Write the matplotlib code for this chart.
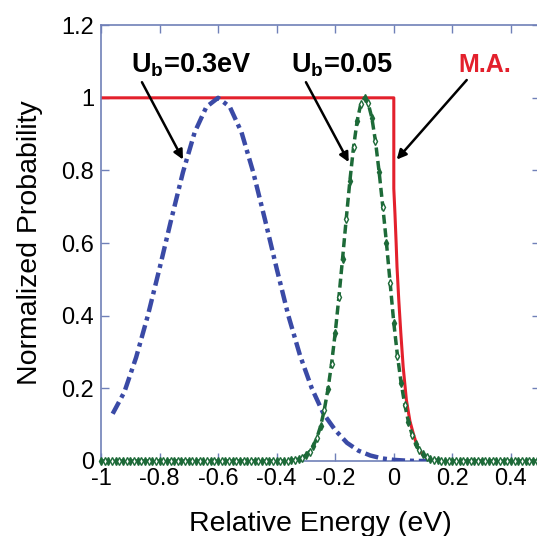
import numpy as np
import matplotlib.pyplot as plt

plt.rcParams['font.family'] = ['Liberation Sans', 'DejaVu Sans']
plt.rcParams['mathtext.fontset'] = 'custom'
plt.rcParams['mathtext.rm'] = 'Liberation Sans'
plt.rcParams['mathtext.bf'] = 'Liberation Sans:bold'

# M.A. curve (red): flat at 1, sharp drop at 0, short tail
ma_x = [-1.0, 0.0, 0.0, 0.004, 0.008, 0.011, 0.017, 0.024, 0.032, 0.043, 0.055,
        0.066, 0.08, 0.10, 0.13]
ma_y = [1.0, 1.0, 0.75, 0.68, 0.60, 0.534, 0.443, 0.352, 0.259, 0.168, 0.11,
        0.077, 0.04, 0.015, 0.0]

# Ub = 0.3 eV (blue)
ub03_x = [-0.96, -0.92, -0.88, -0.84, -0.80, -0.76, -0.72, -0.68, -0.64, -0.60,
          -0.56, -0.52, -0.48, -0.44, -0.40, -0.36, -0.32, -0.28, -0.24, -0.20,
          -0.16, -0.12, -0.08, -0.04, 0.0, 0.04, 0.08, 0.12]
ub03_y = [0.13, 0.19, 0.285, 0.40, 0.53, 0.665, 0.795, 0.905, 0.975, 1.0,
          0.975, 0.905, 0.795, 0.665, 0.53, 0.40, 0.29, 0.20, 0.13, 0.085,
          0.05, 0.028, 0.015, 0.007, 0.003, 0.001, 0.0, 0.0]

# Ub = 0.05 (green), sampled every 0.0125 eV from -1 to 0.5
ub005_x = np.arange(121) * 0.0125 - 1.0
ub005_y = ([0.0] * 52 +
           [0.002, 0.003, 0.005, 0.009, 0.016, 0.026, 0.041, 0.064, 0.096, 0.14,
            0.197, 0.268, 0.353, 0.451, 0.557, 0.666, 0.771, 0.864, 0.937, 0.984,
            1.0,
            0.985, 0.945, 0.88, 0.795, 0.70, 0.60, 0.49, 0.38, 0.29, 0.215,
            0.155, 0.108, 0.072, 0.046, 0.029, 0.018, 0.01, 0.006, 0.003, 0.002] +
           [0.0] * 28)
ub005_y = np.array(ub005_y)

xticks = [-1, -0.8, -0.6, -0.4, -0.2, 0, 0.2, 0.4]
xtick_labels = ['-1', '-0.8', '-0.6', '-0.4', '-0.2', '0', '0.2', '0.4']
yticks = [0, 0.2, 0.4, 0.6, 0.8, 1, 1.2]
ytick_labels = ['0', '0.2', '0.4', '0.6', '0.8', '1', '1.2']

fig = plt.figure(figsize=(5.37, 5.36), dpi=100)
ax = fig.add_axes([0.188, 0.140, 0.818, 0.813])

green = '#1d6a38'
red = '#e3202c'
ax.plot(ma_x, ma_y, color=red, lw=2.2, zorder=2)
ax.plot(ub03_x, ub03_y, color='#3a4aa6', lw=3.2, linestyle=(0, (3.0, 1.1, 0.9, 1.1)),
        solid_capstyle='butt', zorder=3)
ax.plot(ub005_x, ub005_y, color=green, lw=2.5, linestyle=(0, (2.6, 1.3)), zorder=4, clip_on=False)
ax.plot(ub005_x[::2], ub005_y[::2], 'd', color=green, ms=4, mfc=green, zorder=5, clip_on=False)
ax.plot(ub005_x[1::2], ub005_y[1::2], 'd', color=green, ms=4, mfc='white', mew=1, zorder=5, clip_on=False)

ax.set_xlim(-1, 0.5)
ax.set_ylim(0, 1.2)
ax.set_xticks(xticks)
ax.set_xticklabels(xtick_labels)
ax.set_yticks(yticks)
ax.set_yticklabels(ytick_labels)
ax.tick_params(direction='in', length=6, width=1, color='#7080b8', labelsize=17,
               top=True, right=True, pad=5)
for s in ax.spines.values():
    s.set_color('#7080b8')
    s.set_linewidth(1.2)

ax.set_xlabel('Relative Energy (eV)', fontsize=20.5, labelpad=15)
ax.set_ylabel('Normalized Probability', fontsize=20.5, labelpad=13)

ax.text(-0.69, 1.09, r'$\mathbf{U_b}$=0.3eV', fontsize=19.5, fontweight='bold', ha='center', va='center')
ax.text(-0.177, 1.09, r'$\mathbf{U_b}$=0.05', fontsize=19.5, fontweight='bold', ha='center', va='center')
ax.text(0.31, 1.09, 'M.A.', fontsize=18, fontweight='bold', color=red, ha='center', va='center')

arrow = dict(arrowstyle='-|>', color='black', lw=1.8, mutation_scale=14, shrinkA=0, shrinkB=0)
ax.annotate('', xy=(-0.72, 0.83), xytext=(-0.86, 1.043), arrowprops=arrow)
ax.annotate('', xy=(-0.154, 0.823), xytext=(-0.30, 1.043), arrowprops=arrow)
ax.annotate('', xy=(0.01, 0.83), xytext=(0.249, 1.049), arrowprops=arrow)

plt.savefig('out.png', dpi=100)
